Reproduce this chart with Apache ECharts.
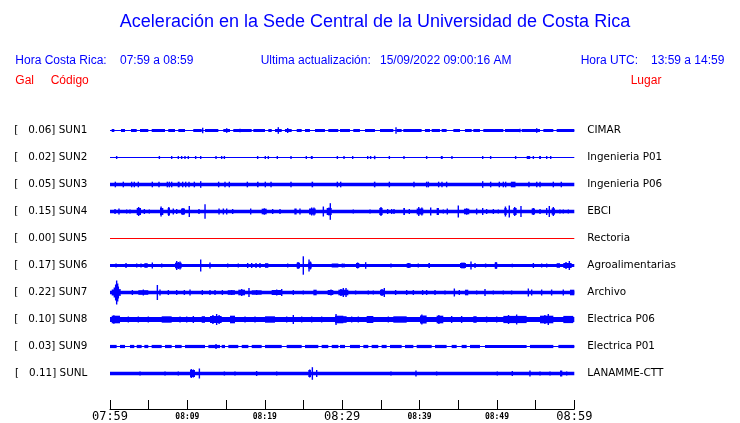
<!DOCTYPE html>
<html>
<head>
<meta charset="utf-8">
<script src="https://cdn.jsdelivr.net/npm/echarts@6/dist/echarts.min.js"></script>
<style>html,body{margin:0;padding:0;background:#fff}#c{width:740px;height:423px}</style>
</head>
<body>
<div id="c"></div>
<script>
// ---- data ----
const codes = ['SUN1','SUN2','SUN3','SUN4','SUN5','SUN6','SUN7','SUN8','SUN9','SUNL'];
const peaks = ['0.06','0.02','0.05','0.15','0.00','0.17','0.22','0.10','0.03','0.11'];
const places = ['CIMAR','Ingenieria P01','Ingenieria P06','EBCI','Rectoria','Agroalimentarias','Archivo','Electrica P06','Electrica P01','LANAMME-CTT'];
const tickLabels = ['07:59','','08:09','','08:19','','08:29','','08:39','','08:49','','08:59'];
const majorLabels = ['07:59','08:29','08:59'];

// trace noise level (half amplitude) and events [startMinute, endMinute, halfAmplitude]
const sun1Base = 0.5;
const sun1Events = [[0.22,0.56,1.5],[1.42,1.94,1.5],[2.71,3.45,1.5],[3.88,4.95,1.5],[5.39,7.11,1.5],[7.53,8.40,1.5],[8.83,9.69,1.5],[10.76,11.85,1.5],[12.28,14.0,1.5],[14.64,15.51,1.5],[15.93,18.31,1.5],[18.52,20.03,1.5],[20.46,20.9,1.5],[21.32,22.19,1.5],[22.61,23.48,1.5],[24.13,24.77,1.5],[25.2,25.84,1.5],[26.49,27.78,1.5],[28.21,29.5,1.5],
  [11.98,11.98,2.7],[15.08,15.08,2.3],[16.8,16.8,1.8],[21.75,21.75,3.3],[22.96,22.96,2.5],
  [29.72,31.01,1.5],[31.44,32.3,1.5],[32.95,34.24,1.5],[34.89,36.61,1.5],[37.04,37.69,1.5],[37.9,40.27,1.5],[40.7,41.35,1.5],[41.57,42.64,1.5],[42.86,43.5,1.5],[44.37,45.23,1.5],[45.87,46.74,1.5],[46.95,47.81,1.5],[48.24,50.83,1.5],[51.04,52.98,1.5],[53.2,55.57,1.5],[56.0,57.29,1.5],[57.72,60,1.5],
  [36.96,36.96,3.3],[52.98,52.98,1.8],[55.14,55.14,2.3]];
const sun2Base = 0.5;
const sun2Events = [[0.86,0.86,1.5],[6.38,6.38,1.5],[7.97,7.97,1.5],[8.83,8.83,1.5],[9.26,9.26,1.5],[9.69,9.69,1.5],[10.12,10.12,1.5],[11.07,11.07,1.5],[11.72,11.72,1.5],[13.7,13.7,1.5],[14.43,14.43,1.5],[14.78,14.78,1.5],[19.08,19.08,1.5],[20.07,20.07,1.5],[20.46,20.46,1.5],[21.62,21.62,1.5],[23.39,23.39,1.5],[25.37,25.37,1.5],[25.95,26.2,1.5],[29.38,29.38,1.5],
  [30.24,30.24,1.5],[31.36,31.36,1.5],[33.3,33.3,1.5],[33.68,33.68,1.5],[34.1,34.3,1.7],[36.1,36.1,1.5],[37.99,37.99,1.5],[40.92,40.92,1.5],[42.75,43.0,1.5],[44.19,44.19,1.5],[48.16,48.16,1.5],[49.19,49.19,1.5],[52.42,52.42,1.5],[53.85,54.3,1.5],[54.71,54.71,1.5],[55.45,55.7,1.5],[56.43,56.43,1.5],[56.95,56.95,1.5]];
const sun3Base = 1.7;
const sun3Events = [[0.69,0.69,2.8],[1.72,1.72,2.8],[2.8,2.8,2.8],[3.14,3.14,2.8],[3.66,3.66,2.8],[5.47,5.47,2.8],[6.33,6.33,2.8],[7.41,7.41,2.8],[7.67,7.67,2.8],[7.97,7.97,2.8],[8.75,9.0,2.8],[9.39,9.39,2.8],[9.78,9.78,2.8],[10.21,10.21,2.8],[10.9,10.9,2.8],[11.72,11.72,3.3],[14.04,14.04,2.8],[14.86,14.86,2.8],[15.42,15.42,2.8],[17.75,17.75,2.8],[19.0,19.2,2.8],[20.07,20.07,2.8],[20.81,20.81,2.8],[23.39,23.39,2.8],[26.05,26.25,2.8],[29.38,29.38,2.8],[29.81,29.81,2.8],
  [34.1,34.3,2.8],[36.1,36.1,2.8],[39.28,39.28,2.8],[40.92,40.92,2.8],[41.14,41.14,2.8],[42.47,42.47,2.8],[42.9,42.9,2.8],[43.5,43.5,2.8],[48.16,48.16,3.3],[49.19,49.19,2.8],[50.31,50.31,2.8],[50.83,50.83,2.8],[51.13,51.13,2.8],[51.8,52.4,2.8],[54.14,54.14,2.8],[55.1,55.2,2.8],[55.57,55.57,2.8],[57.29,57.29,2.8],[58.32,58.32,2.8]];
const sun4Base = 1.8;
const sun4Events = [[0.65,0.65,2.5],[1.16,1.16,3],[2.15,2.15,2],[2.58,2.58,2],[3.45,4.01,3.5],[3.7,3.7,4.5],[4.44,4.44,2.5],[5.08,5.08,2],[6.46,6.89,3.5],[6.6,6.6,5],[7.45,7.75,3.5],[7.6,7.6,4.5],[8.18,8.18,3],[8.62,8.62,2.5],[9.18,9.69,3],[9.43,9.43,3.5],[10.25,10.25,5.5],[11.5,11.5,2.5],[12.28,12.28,7.3],[14.09,14.09,3],[14.65,14.65,3],[15.08,15.08,3],[15.85,15.85,2.5],[18.18,18.18,3],[19.6,20.25,2.8],[19.95,19.95,3.2],[21.02,21.02,2.5],[21.97,21.97,2.5],[23.82,24.12,3],[24.55,24.55,3],[25.72,26.58,3],[26.06,26.06,4],[26.36,26.36,4],[27.57,27.57,5],[28.0,28.65,3.5],[28.3,28.3,4],[28.47,28.47,8.3],
  [31.44,31.44,2],[33.6,33.6,2],[34.8,35.23,3.5],[35.02,35.02,4.5],[35.88,35.88,2.5],[36.4,36.4,2.5],[36.7,36.7,2.5],[37.9,38.12,3.5],[38.68,38.68,2.5],[39.63,40.49,3],[39.9,39.9,4.5],[40.3,40.3,4],[41.44,41.44,4],[42.21,42.51,3.5],[43.07,43.07,2],[43.59,43.59,3],[45.01,45.01,6],[45.74,46.43,2.8],[46.09,46.09,3.2],[47.38,47.38,3],[48.16,48.16,3.5],[48.67,48.67,2.5],[49.54,49.54,2.5],[50.18,50.18,2],[50.96,51.26,3.5],[51.1,51.1,5],[51.6,51.6,6],[52.12,52.55,3.5],[52.3,52.3,4.5],[53.11,53.11,5.5],[54.49,54.92,3],[54.7,54.7,3.5],[55.57,55.57,2.5],[56.43,56.43,3.5],[56.77,56.77,5.5],[57.07,57.5,3.2],[57.29,57.29,4.5],[58.15,58.15,2],[58.58,58.58,2],[59.23,59.23,2]];
const sun5Base = 0;
const sun5Events = [];
const sun6Base = 1.5;
const sun6Events = [[0.78,0.78,2],[2.07,2.07,2.5],[3.45,3.45,2],[4.01,4.01,2],[4.44,4.87,2.3],[5.47,5.47,3],[6.68,6.68,2],[8.4,9.26,2.8],[8.62,8.62,4.5],[8.83,8.83,3.5],[9.05,9.05,4],[11.72,11.72,6],[12.92,12.92,3],[15.21,15.21,2],[16.58,16.58,2],[17.79,17.79,2.5],[18.31,18.31,2.5],[18.87,18.87,2.5],[19.38,19.38,2.5],[20.03,20.46,2.3],[22.96,22.96,2],[24.12,24.55,2.8],[24.3,24.3,3.5],[24.98,24.98,9.2],[25.63,26.06,3],[25.72,25.72,6],[25.9,25.9,4],[28.65,29.51,2],[30.02,30.02,2],
  [30.24,30.24,2],[31.79,32.22,2.5],[32.0,32.0,3],[33.04,33.04,3.3],[36.31,36.31,2],[38.34,38.85,2.3],[38.59,38.59,2.5],[39.84,39.84,2],[41.14,41.35,2.5],[45.23,46.0,2.5],[45.49,45.49,3],[45.74,45.74,3],[46.65,46.65,4],[47.17,47.17,2.5],[48.54,48.54,2],[49.71,50.05,3],[49.88,49.88,3.5],[51.99,51.99,1.8],[54.71,54.71,2.5],[55.78,55.78,2],[56.43,56.43,2],[57.72,58.15,2.3],[58.58,59.66,2.5],[58.93,58.93,3.5],[59.36,59.36,4.5]];
const sun7Base = 1.8;
const sun7Events = [[0.22,1.29,3],[0.56,0.56,5],[0.73,0.73,8],[0.86,0.86,12],[0.99,0.99,9],[1.08,1.08,6],[1.29,1.29,3.5],[2.89,2.89,2.5],[3.66,4.95,2.3],[4.31,4.31,3],[6.12,6.12,7.5],[6.46,6.46,3],[7.54,7.54,2.5],[8.62,8.62,2.5],[9.61,9.61,2.5],[10.34,10.34,3],[11.93,11.93,2.5],[12.92,12.92,2.5],[13.57,13.57,2.5],[14.52,14.52,2.5],[15.21,16.15,2.3],[15.72,15.72,2.5],[16.58,17.45,2.8],[17.02,17.02,3.5],[17.96,17.96,4.5],[18.31,19.6,2.2],[18.95,18.95,2.5],[20.89,22.19,2.5],[21.54,21.54,3],[22.19,22.19,3.5],[23.69,23.69,2.5],[24.98,24.98,2],[26.28,26.71,2.8],[28.13,28.86,2.5],[28.56,28.56,3],[29.51,30.15,2.8],[29.85,29.85,3.5],[30.15,30.15,4.5],
  [29.72,30.8,2.8],[30.5,30.5,4.5],[31.74,31.74,2],[33.38,33.38,2],[34.03,34.03,2],[34.89,35.45,2.8],[35.15,35.15,3.5],[35.45,35.45,4.5],[36.91,36.91,2.5],[38.34,38.34,2.5],[39.2,39.2,2.5],[40.4,40.4,2.5],[40.92,40.92,2.5],[42.0,42.0,2.5],[43.29,43.29,2],[44.5,44.5,4],[45.14,45.14,2.5],[45.87,46.3,2.8],[47.38,47.38,2],[48.46,48.46,3.5],[49.54,49.54,2],[50.83,50.83,2],[51.9,51.9,2],[54.06,54.06,4],[54.49,54.49,3],[55.78,55.78,3],[57.07,57.07,3],[58.58,58.58,3],[59.44,60,2.8]];
const sun8Base = 2.5;
const sun8Events = [[0.22,1.29,3.8],[0.5,0.5,4.2],[2.37,2.37,3],[3.66,3.66,3],[4.95,4.95,3],[6.68,7.97,3.2],[9.05,9.05,3],[9.91,9.91,3],[10.77,10.77,3.5],[11.85,12.28,3.3],[12.92,14.43,3.5],[13.3,13.3,4.5],[13.78,13.78,5.5],[14.1,14.1,4.5],[15.51,16.15,3.8],[17.45,17.45,3],[18.74,18.74,3],[20.03,21.32,3.2],[22.83,22.83,3],[23.69,23.69,4.5],[24.77,24.77,3],[26.06,26.06,3],[27.35,27.35,3],[29.08,30.15,3.8],[29.21,29.21,5.5],
  [29.72,30.58,3.3],[31.23,31.23,3],[32.09,32.09,3],[33.17,34.03,3.5],[35.97,35.97,3],[36.61,38.34,3.2],[40.06,40.92,4],[40.3,40.3,5],[42.21,43.07,3.8],[42.5,42.5,4.5],[44.15,44.15,3.5],[45.44,45.44,3.5],[46.95,47.38,3.3],[48.67,48.67,3],[49.97,49.97,3],[50.83,53.84,3.6],[51.5,51.5,4.5],[52.55,52.55,5],[55.57,57.29,3.8],[56.2,56.2,4.5],[56.64,56.64,5.5],[58.58,59.87,3.6]];
const sun9Base = 0.5;
const sun9Events = [[0.0,0.86,1.6],[1.29,1.94,1.6],[2.58,3.14,1.6],[3.45,4.09,1.6],[4.44,4.95,1.6],[5.38,6.68,1.6],[7.11,7.97,1.6],[8.4,9.26,1.6],[9.69,12.28,1.6],[12.71,14.22,1.6],[14.43,14.86,1.6],[15.29,16.58,1.6],[17.02,17.88,1.6],[18.31,19.6,1.6],[20.03,22.19,1.6],[22.83,24.77,1.6],[25.2,26.92,1.6],[27.35,28.21,1.6],[28.65,29.51,1.6],[29.72,30.37,1.6],[13.7,13.7,2.5],
  [31.01,32.3,1.6],[32.74,33.38,1.6],[33.81,34.67,1.6],[35.1,35.75,1.6],[36.18,37.69,1.6],[38.12,39.2,1.6],[39.63,41.57,1.6],[42.0,43.5,1.6],[44.15,44.8,1.6],[45.44,46.09,1.6],[46.52,47.81,1.6],[48.46,53.84,1.6],[54.27,57.29,1.6],[57.94,60,1.6]];
const sunLBase = 1.8;
const sunLEvents = [[3.88,3.88,2],[7.11,7.11,2],[8.83,8.83,2],[10.34,10.98,3.5],[10.5,10.5,4.5],[10.77,10.77,4],[11.55,11.55,5],[14.78,14.78,2],[16.15,16.15,2],[18.95,18.95,2.5],[21.54,21.54,2],[25.63,25.98,3.5],[25.8,25.8,4],[26.15,26.15,6.3],[26.71,26.71,3.5],[36.31,36.31,2],[39.54,39.54,3],[42.21,42.21,2],[50.05,50.05,2],[51.99,51.99,2.5],[54.27,54.27,3],[55.57,55.57,2],[56.86,56.86,2],[58.15,58.45,3],[59.01,59.01,2]];

// ---- chart ----
const traces = [
  [sun1Base, sun1Events],[sun2Base, sun2Events],[sun3Base, sun3Events],[sun4Base, sun4Events],[sun5Base, sun5Events],
  [sun6Base, sun6Events],[sun7Base, sun7Events],[sun8Base, sun8Events],[sun9Base, sun9Events],[sunLBase, sunLEvents]
];
const ROW = 27;
const BLUE = '#0000ff', RED = '#ff0000';

const series = traces.map(function (tr, i) {
  const center = ROW / 2 + ROW * i;
  const color = peaks[i] === '0.00' ? RED : BLUE;
  return {
    type: 'custom',
    xAxisIndex: 0,
    yAxisIndex: 2,
    silent: true,
    animation: false,
    clip: false,
    data: [[0, 60, tr[0]]].concat(tr[1]),
    renderItem: function (params, api) {
      const t0 = api.value(0), t1 = api.value(1), a = api.value(2);
      const p0 = api.coord([t0, center - a]);
      const p1 = api.coord([t1, center + a]);
      let x = Math.min(p0[0], p1[0]), w = Math.abs(p1[0] - p0[0]);
      if (w < 1.4) { x = (p0[0] + p1[0]) / 2 - 0.7; w = 1.4; }
      let y = Math.min(p0[1], p1[1]), h = Math.abs(p1[1] - p0[1]);
      if (h < 1) { y = (p0[1] + p1[1]) / 2 - 0.5; h = 1; }
      return { type: 'rect', shape: { x: x, y: y, width: w, height: h }, style: { fill: color } };
    }
  };
});

const leftLabels = codes.map(function (c, i) { return '[   ' + peaks[i] + '] ' + c; });

const hdr = 'Liberation Sans, Arial, sans-serif';
function txt(text, x, y, size, color, align) {
  return { type: 'text', x: x, y: y, silent: true,
    style: { text: text, fontSize: size, fontFamily: hdr, fill: color,
      textAlign: align || 'left', align: align || 'left', textVerticalAlign: 'middle', verticalAlign: 'middle' } };
}

const chart = echarts.init(document.getElementById('c'), null, { renderer: 'canvas' });
chart.setOption({
  animation: false,
  backgroundColor: '#fff',
  grid: { left: 110, right: 165.7, top: 117, height: 270, containLabel: false },
  xAxis: {
    type: 'value', min: 0, max: 60, interval: 5, offset: 22, position: 'bottom',
    axisLine: { show: true, onZero: false, lineStyle: { color: '#000', width: 1 } },
    axisTick: { show: true, inside: true, length: 9, lineStyle: { color: '#000', width: 1 } },
    splitLine: { show: false },
    axisLabel: {
      margin: 1,
      formatter: function (v) {
        const s = tickLabels[Math.round(v / 5)];
        if (!s) return '';
        return majorLabels.indexOf(s) >= 0 ? '{big|' + s + '}' : '{small|' + s + '}';
      },
      rich: {
        big: { fontFamily: 'DejaVu Sans Mono', fontSize: 12, color: '#000', lineHeight: 14 },
        small: { fontFamily: 'DejaVu Sans Mono', fontSize: 8, fontWeight: 'bold', color: '#000', lineHeight: 14 }
      }
    }
  },
  yAxis: [
    { type: 'category', position: 'left', inverse: true, data: leftLabels,
      axisLine: { show: false }, axisTick: { show: false }, splitLine: { show: false },
      axisLabel: { margin: 22.7, fontFamily: 'DejaVu Sans', fontSize: 10.4, color: '#000', padding: [3, 0, 0, 0] } },
    { type: 'category', position: 'right', inverse: true, data: places,
      axisLine: { show: false }, axisTick: { show: false }, splitLine: { show: false },
      axisLabel: { margin: 13, fontFamily: 'DejaVu Sans', fontSize: 10.4, color: '#000', padding: [3, 0, 0, 0] } },
    { type: 'value', show: false, min: 0, max: ROW * 10, inverse: true }
  ],
  graphic: [
    txt('Aceleración en la Sede Central de la Universidad de Costa Rica', 375, 22.5, 18, BLUE, 'center'),
    txt('Hora Costa Rica:', 15.3, 61, 12, BLUE),
    txt('07:59 a 08:59', 120, 61, 12, BLUE),
    txt('Ultima actualización:', 260.7, 61, 12, BLUE),
    txt('15/09/2022 09:00:16 AM', 380, 61, 12, BLUE),
    txt('Hora UTC:', 580.7, 61, 12, BLUE),
    txt('13:59 a 14:59', 651, 61, 12, BLUE),
    txt('Gal', 15.3, 80.7, 12, RED),
    txt('Código', 50.7, 80.7, 12, RED),
    txt('Lugar', 630.7, 80.7, 12, RED)
  ],
  series: series
});
</script>
</body>
</html>
